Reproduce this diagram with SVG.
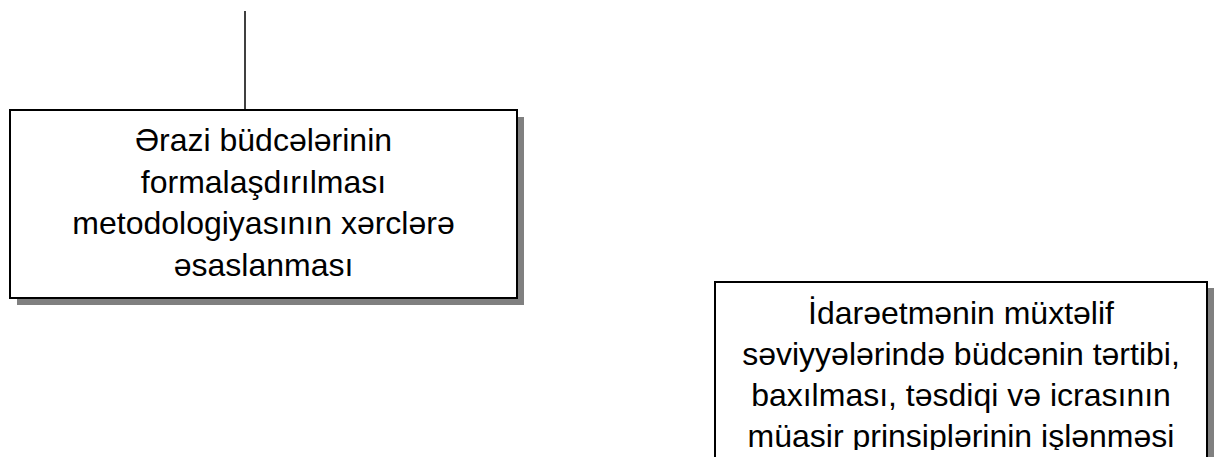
<svg xmlns="http://www.w3.org/2000/svg" width="1215" height="457" viewBox="0 0 1215 457">
<style>
.box{fill:#fff;stroke:#000;stroke-width:2}
.shadow{fill:#808080}
.t{font-family:"Liberation Sans",Arial,sans-serif;font-size:32px;fill:#000;text-anchor:middle}
.conn{stroke:#000;stroke-width:1.5;fill:none}
</style>
<rect width="1215" height="457" fill="#fff"/>
<defs>
<clipPath id="clip2"><rect x="715" y="282" width="492" height="168"/></clipPath>
</defs>
<g id="connectors">
<line class="conn" x1="245" y1="11" x2="245" y2="110"/>
</g>
<g id="node1">
<rect class="shadow" x="17" y="117" width="507" height="188"/>
<rect class="box" x="10" y="110" width="507" height="188"/>
<text class="t" x="263.5" y="151">Ərazi büdcələrinin</text>
<text class="t" x="263.5" y="193">formalaşdırılması</text>
<text class="t" x="263.5" y="234">metodologiyasının xərclərə</text>
<text class="t" x="263.5" y="276">əsaslanması</text>
</g>
<g id="node2">
<rect class="shadow" x="722" y="288" width="492" height="180"/>
<rect class="box" x="715" y="282" width="492" height="180"/>
<g clip-path="url(#clip2)">
<text class="t" x="961" y="324">İdarəetmənin müxtəlif</text>
<text class="t" x="961" y="365">səviyyələrində büdcənin tərtibi,</text>
<text class="t" x="961" y="406">baxılması, təsdiqi və icrasının</text>
<text class="t" x="961" y="447">müasir prinsiplərinin işlənməsi</text>
</g>
</g>
</svg>
